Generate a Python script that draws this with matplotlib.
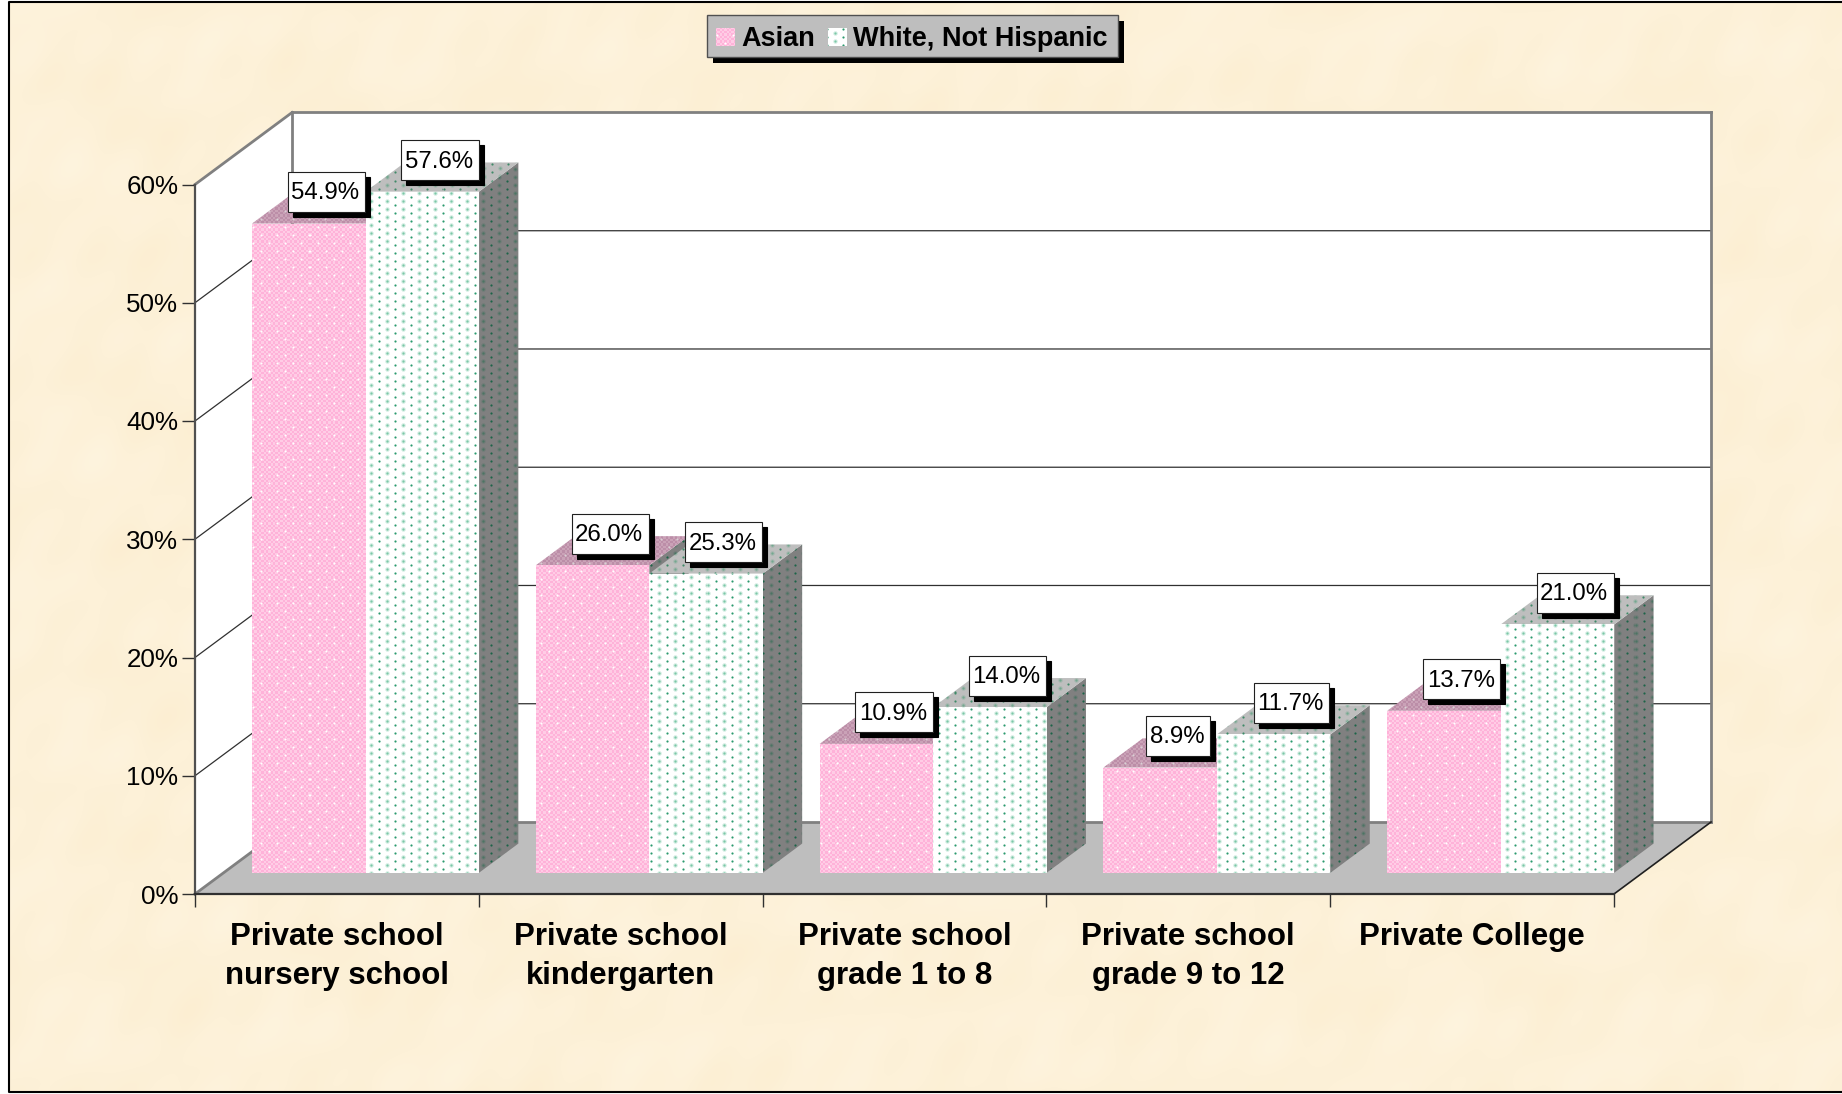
import numpy as np
import matplotlib
matplotlib.use("Agg")
import matplotlib.pyplot as plt
from matplotlib.patches import Polygon, Rectangle
from matplotlib.ticker import FuncFormatter
from matplotlib.transforms import IdentityTransform

plt.rcParams['font.family'] = ['Liberation Sans', 'DejaVu Sans']

categories = ["Private school\nnursery school", "Private school\nkindergarten",
              "Private school\ngrade 1 to 8", "Private school\ngrade 9 to 12",
              "Private College"]
asian = [54.9, 26.0, 10.9, 8.9, 13.7]
white = [57.6, 25.3, 14.0, 11.7, 21.0]
y_ticks = [0, 10, 20, 30, 40, 50, 60]
series_names = ["Asian", "White, Not Hispanic"]

W, H = 1842, 1094
DEPTH_X = 0.342  # 整个深度对应的 x 偏移（类别单位）
DEPTH_Y = 6.09   # 整个深度对应的 y 偏移（百分比单位）
BAR_FRONT, BAR_BACK = 0.295, 0.70


def project(x, y, d=0.0):
    return (x + d * DEPTH_X, y + d * DEPTH_Y)


def hexrgb(c):
    return np.array(matplotlib.colors.to_rgb(c))


# 生成整张图大小的纹理，点阵相位从原图读取
yy, xx = np.mgrid[0:H, 0:W].astype(float)


def lattice(px, py, x0, y0, radius):
    d = np.hypot(np.mod(xx - x0 + px / 2, px) - px / 2, np.mod(yy - y0 + py / 2, py) - py / 2)
    return np.clip(radius - d, 0, 1)[..., None]


sharp = lattice(16, 8, 11, 5, 1.55)
soft = lattice(16, 8, 3, 1, 1.6)
halo = lattice(16, 8, 3, 1, 2.8) * 0.3
star = np.maximum(lattice(16, 16, 5, 11, 1.5), lattice(16, 16, 13, 3, 1.5))
check = (((xx // 2.35) + (yy // 2.35)) % 2)[..., None]


def check_tile(c1, c2, dot):
    base = check * hexrgb(c1) + (1 - check) * hexrgb(c2)
    return base * (1 - star) + hexrgb(dot) * star


def dot_tile(base, dark, light):
    img = hexrgb(base) * (1 - halo) + hexrgb(light) * halo
    img = img * (1 - soft) + hexrgb(light) * soft
    return img * (1 - sharp) + hexrgb(dark) * sharp


tiles = {
    "asian_front": check_tile("#FFB2D9", "#FFCCE5", "#FFFFFF"),
    "asian_top": check_tile("#BC8EA8", "#CAA2B7", "#D8D0D4"),
    "white_front": dot_tile("#FFFFFF", "#2B9A6E", "#7CC8A8"),
    "white_top": dot_tile("#BEBEBE", "#3F8A68", "#74A890"),
    "white_side": dot_tile("#808080", "#1C6448", "#4C7464"),
}

fig = plt.figure(figsize=(W / 100, H / 100), dpi=100, facecolor="white")


def fill_tex(axis, pts, tile, z):
    pts = np.array(pts)
    disp = axis.transData.transform(pts)
    x0, y0 = np.floor(disp.min(axis=0)).astype(int)
    x1, y1 = np.ceil(disp.max(axis=0)).astype(int)
    crop = tiles[tile][H - y1:H - y0, x0:x1]
    (l, b), (r, t) = axis.transData.inverted().transform([(x0, y0), (x1, y1)])
    im = axis.imshow(crop, extent=[l, r, b, t], origin="upper", aspect="auto",
                     interpolation="nearest", zorder=z)
    poly = Polygon(pts, closed=True, fill=False, edgecolor="none", transform=axis.transData)
    axis.add_patch(poly)
    im.set_clip_path(poly)
    im.set_clip_box(fig.bbox)


# 背景纸张纹理
bg = fig.add_axes([0, 0, 1, 1], zorder=-1)
bg.axis("off")
blot = (np.sin(xx / 31 + 1.3 * np.sin(yy / 43)) + np.sin(yy / 23 + 1.1 * np.sin(xx / 37))
        + np.sin((xx + yy) / 17) * np.sin((xx - yy) / 21)
        + 0.6 * np.sin(xx / 9 + yy / 13)) / 3.6
paper = hexrgb("#FDF1D8") + blot[..., None] * np.array([0.004, 0.010, 0.022])
paper = np.clip(paper, 0, 1)
paper[:3, :] = 1
paper[:, :9] = 1
paper[1092:, :] = 1
bg.imshow(paper, extent=[0, W, H, 0], aspect="auto", interpolation="nearest")

# 图表主坐标轴：前平面
ax = fig.add_axes([195 / W, (H - 894) / H, (1614 - 195) / W, (894 - 184.5) / H], zorder=1)
ax.set_xlim(0, 5)
ax.set_ylim(0, 60)
ax.autoscale(False)
ax.patch.set_visible(False)

ax.add_patch(Polygon([project(0, 0, 1), project(5, 0, 1), project(5, 60, 1), project(0, 60, 1)],
                     fc="white", ec="none", clip_on=False, zorder=1))
ax.add_patch(Polygon([project(0, 0), project(0, 0, 1), project(0, 60, 1), project(0, 60)],
                     fc="white", ec="none", clip_on=False, zorder=1))
ax.add_patch(Polygon([project(0, 0), project(5, 0), project(5, 0, 1), project(0, 0, 1)],
                     fc="#BEBEBE", ec="none", clip_on=False, zorder=1.1))

# 网格线
for v in y_ticks[1:-1]:
    xs, ys = zip(project(0, v), project(0, v, 1), project(5, v, 1))
    ax.plot(xs, ys, color="#303030", lw=0.9, clip_on=False, zorder=1.2)

# 墙和地面的灰色边线
gray = dict(color="#808080", lw=2.0, clip_on=False, zorder=1.3, solid_capstyle="projecting")
for a, b in [(project(0, 60), project(0, 60, 1)), (project(0, 60, 1), project(5, 60, 1)),
             (project(5, 60, 1), project(5, 0, 1)), (project(5, 0, 1), project(0, 0, 1)),
             (project(0, 0, 1), project(0, 60, 1)), (project(0, 0), project(0, 0, 1))]:
    ax.plot(*zip(a, b), **gray)
ax.plot(*zip(project(5, 0), project(5, 0, 1)), color="#202020", lw=1.2, clip_on=False, zorder=1.4)

# 柱子
z = 3.0
for i in range(len(categories)):
    for left, val, name in [(i + 0.1, asian[i], "asian"), (i + 0.5, white[i], "white")]:
        right = left + 0.4
        side = [project(right, 0, BAR_FRONT), project(right, 0, BAR_BACK),
                project(right, val, BAR_BACK), project(right, val, BAR_FRONT)]
        top = [project(left, val, BAR_FRONT), project(right, val, BAR_FRONT),
               project(right, val, BAR_BACK), project(left, val, BAR_BACK)]
        front = [project(left, 0, BAR_FRONT), project(right, 0, BAR_FRONT),
                 project(right, val, BAR_FRONT), project(left, val, BAR_FRONT)]
        fill_tex(ax, side, "white_side", z)
        fill_tex(ax, top, name + "_top", z + 0.01)
        fill_tex(ax, front, name + "_front", z + 0.02)
        z += 0.1

# 坐标轴
for s in ("top", "right"):
    ax.spines[s].set_visible(False)
ax.spines["left"].set_color("#505050")
ax.spines["left"].set_linewidth(1.6)
ax.spines["bottom"].set_color("#303030")
ax.spines["bottom"].set_linewidth(1.6)
ax.set_yticks(y_ticks)
ax.yaxis.set_major_formatter(FuncFormatter(lambda v, _: f"{v:.0f}%"))
ax.tick_params(axis="y", length=9.5, width=1.0, color="#303030", pad=2.5, labelsize=18.7)
ax.set_xticks(range(len(categories) + 1))
ax.set_xticklabels([])
ax.tick_params(axis="x", which="major", length=9.5, width=1.0, color="#303030")
ax.set_xticks([i + 0.5 for i in range(len(categories))], minor=True)
ax.set_xticklabels(categories, minor=True, fontsize=22.5, fontweight="bold", linespacing=1.4)
ax.tick_params(axis="x", which="minor", length=0, pad=20)

# 数据标签
renderer = fig.canvas.get_renderer()
for i in range(len(categories)):
    for left, val in [(i + 0.1, asian[i]), (i + 0.5, white[i])]:
        pos = project(left + 0.2, val, (BAR_FRONT + BAR_BACK) / 2)
        t = ax.annotate(f"{val:.1f}%", xy=pos, xytext=(-3, 15.5), textcoords="offset pixels",
                        ha="center", va="center", fontsize=17.3, zorder=10, annotation_clip=False)
        cx, cy = ax.transData.transform(pos)
        cx -= 2
        cy += 17
        w = t.get_window_extent(renderer).width + 9
        for dx, color, ec in [(5, "black", "black"), (0, "white", "#202020")]:
            ax.add_patch(Rectangle((cx - w / 2 + dx, cy - 20 - dx), w, 40, fc=color, ec=ec, lw=0.8,
                                   transform=IdentityTransform(), clip_on=False,
                                   zorder=9 + dx * -0.01))

# 外框和图例，用像素坐标
top_ax = fig.add_axes([0, 0, 1, 1], zorder=5)
top_ax.set_xlim(0, W)
top_ax.set_ylim(H, 0)
top_ax.autoscale(False)
top_ax.axis("off")
top_ax.plot([W, 9, 9, W], [2, 2, 1092, 1092], color="black", lw=1.5)
top_ax.add_patch(Rectangle((713, 21), 411, 42, fc="black", ec="none", zorder=3))
top_ax.add_patch(Rectangle((707, 15), 411, 42, fc="#BEBEBE", ec="#505050", lw=1.0, zorder=4))
fill_tex(top_ax, [(716, 28), (735, 28), (735, 46), (716, 46)], "asian_front", 5)
fill_tex(top_ax, [(828, 28), (847, 28), (847, 46), (828, 46)], "white_front", 5)
top_ax.text(741, 39, series_names[0], fontsize=19.5, fontweight="bold", va="center", zorder=6)
top_ax.text(853, 39, series_names[1], fontsize=19.5, fontweight="bold", va="center", zorder=6)

fig.savefig("out.png", dpi=100)
